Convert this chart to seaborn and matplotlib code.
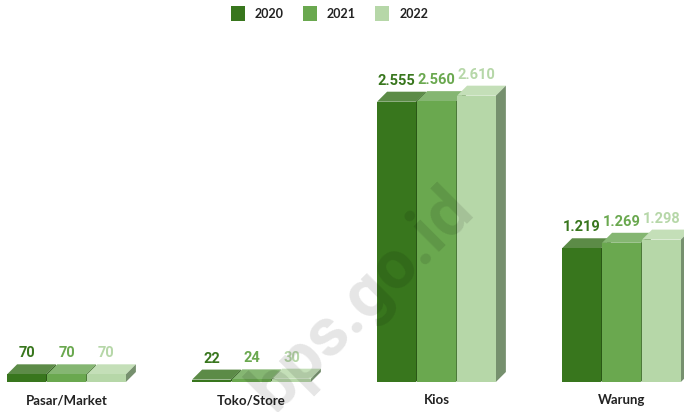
import matplotlib
matplotlib.use("Agg")
import matplotlib.pyplot as plt
import pandas as pd
import seaborn as sns
from matplotlib.patches import Polygon

# values
categories = ["Pasar/Market", "Toko/Store", "Kios", "Warung"]
values_2020 = [70, 22, 2555, 1219]
values_2021 = [70, 24, 2560, 1269]
values_2022 = [70, 30, 2610, 1298]
years = ["2020", "2021", "2022"]

front_colors = ["#38761d", "#6aa84f", "#b6d7a8"]
top_colors = ["#5c8b47", "#85b672", "#c4dfb8"]
side_colors = ["#2a5716", "#4d7a3a", "#76906e"]

df = pd.DataFrame({
    "category": categories * 3,
    "year": [y for y in years for _ in categories],
    "value": values_2020 + values_2021 + values_2022,
})

sns.set_theme(style="white")
plt.rcParams["font.family"] = ["Lato", "DejaVu Sans"]

fig = plt.figure(figsize=(6.84, 4.12), dpi=100)
ax = fig.add_axes([0, 30 / 412, 1, 382 / 412])

sns.barplot(
    data=df, x="category", y="value", hue="year",
    palette=front_colors, width=0.6486, gap=0.03, saturation=1,
    linewidth=0, ax=ax,
)

ax.set_xlim(-0.3595, 3.338)
ax.set_ylim(0, 3482)
ax.set_xlabel("")
ax.set_ylabel("")
ax.set_yticks([])
ax.tick_params(axis="x", length=0, pad=9)
for label in ax.get_xticklabels():
    label.set_fontweight("bold")
    label.set_fontsize(9.5)
    label.set_color("#222222")
sns.despine(ax=ax, left=True, bottom=True)

# fake 3D depth, 10 px to the right and up
depth_x = 10 / 185
depth_y = 10 * 3482 / 382

for h, container in enumerate(ax.containers):
    for bar in container:
        x0 = bar.get_x()
        x1 = x0 + bar.get_width()
        top = bar.get_height()
        bar.set_zorder(3 + h + 0.1)
        ax.add_patch(Polygon(
            [(x0, top), (x1, top), (x1 + depth_x, top + depth_y), (x0 + depth_x, top + depth_y)],
            facecolor=top_colors[h], edgecolor="none", zorder=3 + h,
        ))
        ax.add_patch(Polygon(
            [(x1, 0), (x1 + depth_x, depth_y), (x1 + depth_x, top + depth_y), (x1, top)],
            facecolor=side_colors[h], edgecolor="none", zorder=3 + h,
        ))
    ax.bar_label(
        container,
        fmt=lambda v: f"{v:,.0f}".replace(",", "."),
        padding=10, color=front_colors[h], fontsize=10.5,
        fontweight="bold", family="Roboto", zorder=10,
    )

sns.move_legend(
    ax, "upper center", bbox_to_anchor=(0.482, 1.004), ncol=3, title=None,
    frameon=False, fontsize=9, handlelength=1.1, handleheight=1.5,
    columnspacing=1.55, handletextpad=0.8, borderaxespad=0.2,
)
for text in ax.get_legend().get_texts():
    text.set_fontweight("bold")
    text.set_color("#222222")

# watermark across the picture
ax.text(
    0.53, 0.215, "bps.go.id", transform=ax.transAxes, rotation=45,
    rotation_mode="anchor", ha="center", va="center", fontsize=49,
    fontweight="bold", family="Roboto", color="black", alpha=0.1, zorder=11,
)

fig.savefig("out.png", dpi=100)
